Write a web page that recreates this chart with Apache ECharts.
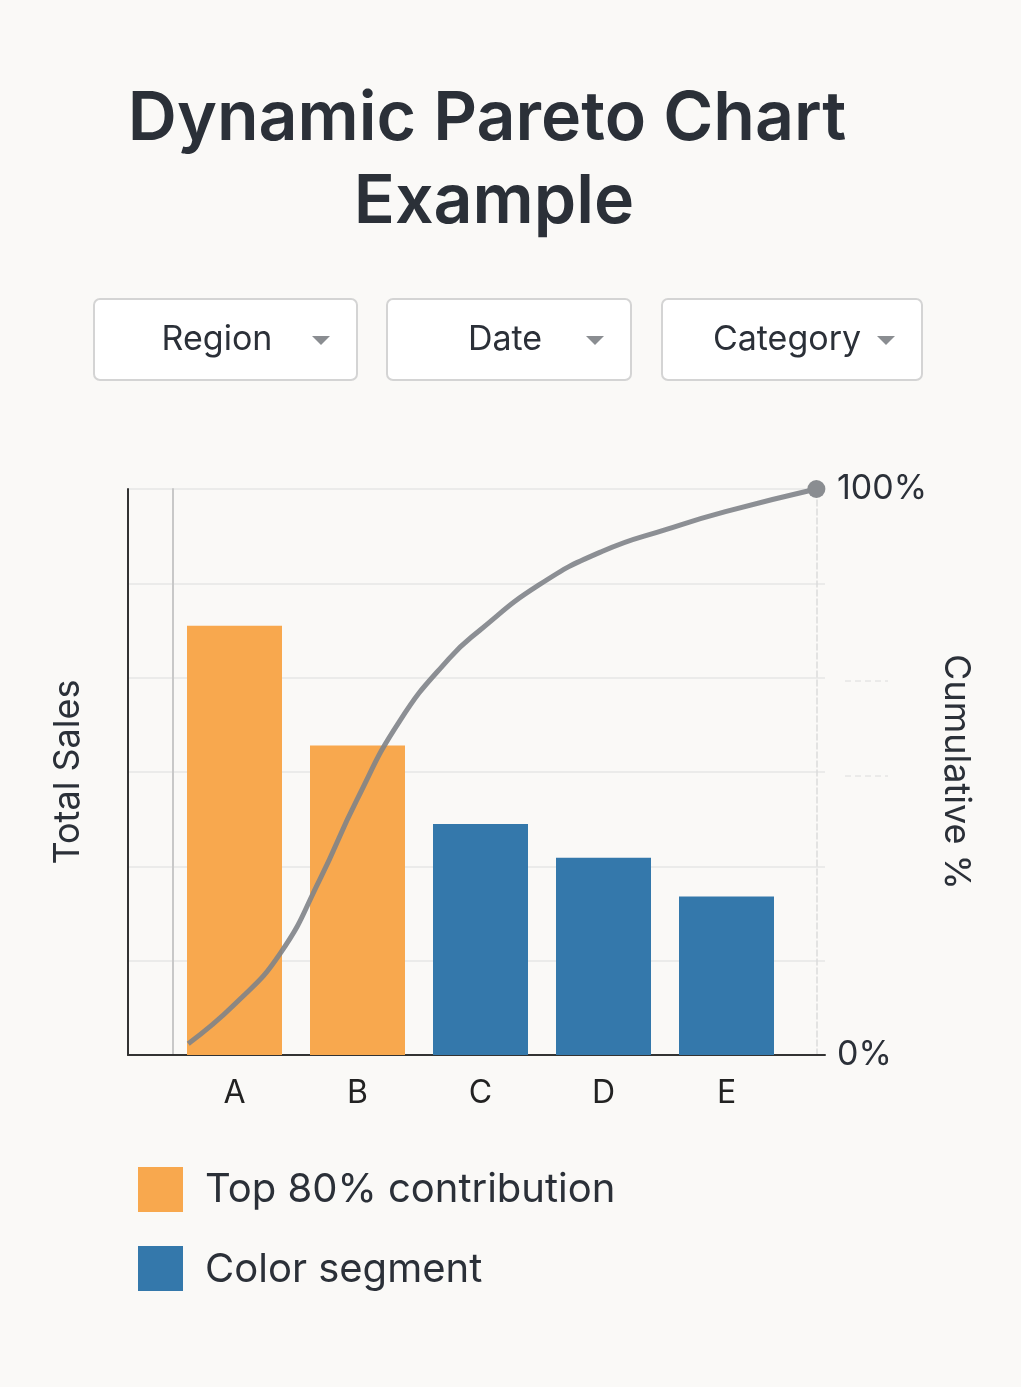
<!DOCTYPE html>
<html>
<head>
<meta charset="utf-8">
<script src="https://cdn.jsdelivr.net/npm/echarts@6/dist/echarts.min.js"></script>
<style>
  html, body { margin: 0; padding: 0; background: #faf9f7; }
  #main { width: 1021px; height: 1387px; }
</style>
</head>
<body>
<div id="main"></div>
<script>
// data
var categories = ['A', 'B', 'C', 'D', 'E'];
var salesValues = [4.55, 3.28, 2.45, 2.09, 1.68];
var topFlags = [true, true, false, false, false];
// cumulative curve, x in category units (A = 0), y in percent
var curveX = [-0.38, 0, 0.37, 0.69, 0.99, 1.34, 1.74, 1.99, 2.47, 2.99, 3.53, 3.99, 4.73];
var curvePct = [2, 9, 18, 31, 45, 59, 70, 75, 83, 89, 93, 96, 100];
var filters = ['Region', 'Date', 'Category'];

var orange = '#f8a84e', blue = '#3478ab';
var font = 'Inter, "Noto Sans", sans-serif';

var curveData = [];
for (var i = 0; i < curveX.length; i++) {
    curveData.push([curveX[i], curvePct[i]]);
}

var barData = salesValues.map(function (v, i) {
    return { value: v, itemStyle: { color: topFlags[i] ? orange : blue } };
});

function label(text, x, y, size, weight, align) {
    return {
        type: 'text', x: x, y: y,
        style: { text: text, font: weight + ' ' + size + 'px ' + font, fill: '#2b3038',
            align: align || 'center', verticalAlign: 'middle' }
    };
}

// dropdown boxes
var boxes = [[94, 263], [387, 244], [662, 260]];
var textX = [217, 505, 787];
var graphics = [];
filters.forEach(function (f, i) {
    var b = boxes[i];
    graphics.push({
        type: 'rect', shape: { x: b[0], y: 299, width: b[1], height: 81, r: 6 },
        style: { fill: '#fff', stroke: '#d4d4d4', lineWidth: 2 }
    });
    graphics.push(label(f, textX[i], 340, 34, 400));
    var tx = b[0] + b[1] - 36;
    graphics.push({
        type: 'polygon',
        shape: { points: [[tx - 9, 336], [tx + 9, 336], [tx, 345]] },
        style: { fill: '#8a8d91' }
    });
});

// title
graphics.push(label('Dynamic Pareto Chart', 487, 120, 68, 600));
graphics.push(label('Example', 494, 203, 68, 600));

// legend
graphics.push({ type: 'rect', shape: { x: 138, y: 1167, width: 45, height: 45 }, style: { fill: orange } });
graphics.push({ type: 'rect', shape: { x: 138, y: 1246, width: 45, height: 45 }, style: { fill: blue } });
graphics.push(label('Top 80% contribution', 205, 1190, 40, 400, 'left'));
graphics.push(label('Color segment', 205, 1270, 40, 400, 'left'));
// short dashed marks near right axis
[681, 776].forEach(function (y) {
    graphics.push({
        type: 'line', shape: { x1: 845, y1: y, x2: 888, y2: y },
        style: { stroke: '#dcdcdc', lineWidth: 1, lineDash: [6, 4] }
    });
});

var myChart = echarts.init(document.getElementById('main'));
var option = {
    backgroundColor: '#faf9f7',
    animation: false,
    graphic: graphics,
    grid: [
        { left: 173, width: 615, top: 489, bottom: 332 },
        { left: 128, width: 697, top: 489, bottom: 332 }
    ],
    xAxis: [
        {
            type: 'category', gridIndex: 0, data: categories,
            axisLine: { show: false }, axisTick: { show: false },
            axisLabel: { fontSize: 32, color: '#222', margin: 22, fontFamily: font }
        },
        {
            type: 'value', gridIndex: 1, min: -0.87, max: 4.80,
            axisLine: { show: true, onZero: false, lineStyle: { color: '#333', width: 2 } },
            axisTick: { show: false }, axisLabel: { show: false }, splitLine: { show: false }
        }
    ],
    yAxis: [
        {
            type: 'value', gridIndex: 0, min: 0, max: 6, interval: 1,
            axisLine: { show: true, onZero: false, lineStyle: { color: '#c8c8c8', width: 2 } },
            axisTick: { show: false }, axisLabel: { show: false }, splitLine: { show: false }
        },
        {
            type: 'value', gridIndex: 1, min: 0, max: 6, interval: 1,
            name: 'Total Sales', nameLocation: 'middle', nameGap: 42, nameRotate: 90,
            nameTextStyle: { fontSize: 36, color: '#2b3038', fontFamily: font },
            axisLine: { show: true, onZero: false, lineStyle: { color: '#333', width: 2 } },
            axisTick: { show: false }, axisLabel: { show: false },
            splitLine: { lineStyle: { color: '#e6e6e6', width: 1.5 } }
        },
        {
            type: 'value', gridIndex: 1, min: 0, max: 100, interval: 100, position: 'right',
            offset: -8,
            name: 'Cumulative %', nameLocation: 'middle', nameGap: 100, nameRotate: -90,
            nameTextStyle: { fontSize: 36, color: '#2b3038', fontFamily: font },
            axisLine: { show: true, onZero: false, lineStyle: { color: '#dcdcdc', type: 'dashed', width: 1.5 } },
            axisTick: { show: false },
            axisLabel: { fontSize: 34, color: '#2b3038', margin: 20, fontFamily: font,
                formatter: function (v) { return v + '%'; } },
            splitLine: { show: false }
        }
    ],
    series: [
        {
            type: 'bar', xAxisIndex: 0, yAxisIndex: 0,
            data: barData, barWidth: 95
        },
        {
            type: 'line', xAxisIndex: 1, yAxisIndex: 2,
            data: curveData, smooth: 0.5,
            lineStyle: { color: 'rgba(128,131,136,0.9)', width: 5 },
            symbol: 'circle', showSymbol: true,
            symbolSize: function (v, p) { return p.dataIndex === curveData.length - 1 ? 18 : 0; },
            itemStyle: { color: '#8a8d91' }, z: 5
        }
    ]
};
myChart.setOption(option);
</script>
</body>
</html>
